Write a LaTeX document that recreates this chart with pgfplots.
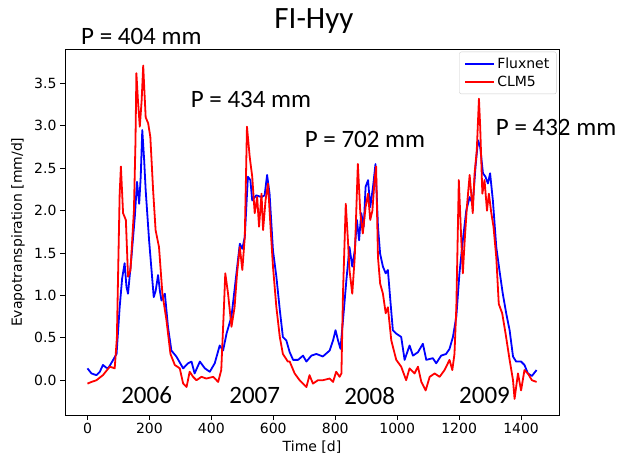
\documentclass[border=0pt]{standalone}
\usepackage{fontspec}
\setmainfont{DejaVu Sans}
\newfontfamily\calibri{Carlito}
\usepackage{pgfplots}
\pgfplotsset{compat=1.18}
\begin{document}
\begin{tikzpicture}
\useasboundingbox (0pt,0pt) rectangle (620pt,462pt);
\begin{axis}[
  at={(65pt,47pt)}, anchor=south west,
  scale only axis, width=494pt, height=365.5pt,
  xmin=-72.5, xmax=1522.5, ymin=-0.41, ymax=3.90,
  xtick={0,200,...,1400}, ytick={0,0.5,...,3.5},
  minor tick num=0,
  tick align=outside, tick pos=left,
  major tick length=5pt,
  every tick/.style={black, line width=0.8pt},
  axis line style={line width=0.8pt},
  /pgf/number format/assume math mode=true,
  yticklabel style={/pgf/number format/.cd, fixed, fixed zerofill, precision=1},
  xticklabel style={/pgf/number format/.cd, fixed, 1000 sep={}},
  ticklabel style={font=\fontsize{14}{16}\selectfont},
  xlabel={Time [d]},
  ylabel={Evapotranspiration [mm/d]},
  label style={font=\fontsize{14}{16}\selectfont},
  ylabel style={at={(axis description cs:-0.095,0.5)}, anchor=center},
  clip mode=individual,
  legend style={at={(rel axis cs:0.995,0.994)}, anchor=north east,
    draw=black!20, rounded corners=2pt, fill=white,
    font=\fontsize{14}{17}\selectfont,
    inner xsep=5pt, inner ysep=4pt, row sep=2pt},
  legend cell align=left,
  legend image code/.code={\draw[#1] (0pt,0pt) -- (29pt,0pt);},
]
\addplot[blue, line width=1.8pt, line join=round] coordinates {
(0,0.14)(13,0.08)(29,0.06)(40,0.1)(50,0.18)(60,0.15)(67,0.14)(83,0.24)(94,0.31)(104,0.86)(112,1.2)(120,1.38)(126,1.1)(131,1.02)(142,1.45)(153,1.93)(160,2.34)(167,2.08)(172,2.4)(177,2.95)(183,2.6)(188,2.24)(199,1.65)(214,0.98)(220,1.05)(228,1.24)(234,1.05)(239,0.94)(250,1.02)(260,0.63)(271,0.35)(287,0.28)(309,0.14)(325,0.2)(336,0.22)(346,0.08)(363,0.22)(379,0.14)(395,0.1)(411,0.2)(427,0.41)(438,0.35)(449,0.55)(465,0.75)(481,1.26)(492,1.61)(500,1.55)(508,1.69)(518,2.4)(526,2.36)(532,2.12)(545,2.18)(562,2.16)(572,2.18)(580,2.42)(588,2.2)(599,1.53)(610,1.22)(621,0.83)(631,0.51)(642,0.47)(653,0.33)(664,0.24)(680,0.24)(696,0.29)(707,0.22)(723,0.29)(739,0.31)(760,0.28)(782,0.35)(793,0.47)(801,0.59)(809,0.47)(817,0.37)(827,0.79)(836,1.18)(846,1.57)(855,1.34)(863,1.53)(870,1.89)(877,1.65)(884,1.97)(892,1.81)(898,2.28)(906,2.36)(913,2.04)(922,2.28)(930,2.55)(938,1.81)(945,1.49)(954,1.34)(963,1.26)(970,1.3)(978,0.94)(986,0.59)(997,0.55)(1013,0.51)(1024,0.24)(1040,0.41)(1051,0.29)(1067,0.33)(1083,0.43)(1094,0.24)(1115,0.26)(1126,0.2)(1142,0.29)(1158,0.31)(1169,0.37)(1180,0.51)(1191,0.75)(1201,1.26)(1212,1.65)(1223,2.0)(1234,2.16)(1244,2.08)(1253,2.52)(1261,2.83)(1268,2.75)(1277,2.44)(1285,2.4)(1293,2.32)(1300,2.44)(1309,2.12)(1320,1.57)(1330,1.3)(1341,1.02)(1352,0.79)(1363,0.59)(1374,0.28)(1384,0.22)(1400,0.22)(1411,0.18)(1422,0.08)(1435,0.05)(1450,0.12)
};
\addlegendentry{Fluxnet}
\addplot[red, line width=1.8pt, line join=round] coordinates {
(0,-0.04)(13,-0.02)(29,0.0)(50,0.06)(72,0.16)(88,0.14)(95,0.5)(99,1.26)(104,2.2)(108,2.52)(115,1.97)(124,1.89)(131,1.22)(139,1.3)(150,2.0)(155,2.8)(158,3.62)(163,3.3)(169,2.99)(175,3.3)(180,3.71)(184,3.4)(188,3.1)(196,3.03)(203,2.87)(212,2.24)(220,1.77)(231,1.57)(242,1.02)(255,0.71)(268,0.31)(282,0.18)(298,0.14)(309,-0.04)(320,-0.08)(330,0.1)(341,0.04)(352,0.0)(368,0.04)(384,0.02)(406,0.04)(422,-0.02)(432,0.12)(440,0.8)(445,1.26)(454,1.02)(465,0.63)(475,0.86)(483,1.26)(492,1.57)(500,1.3)(508,1.69)(515,2.99)(524,2.63)(532,2.4)(540,1.97)(548,2.16)(554,1.81)(562,2.2)(567,1.77)(575,2.12)(583,2.32)(591,1.81)(599,1.34)(610,0.86)(621,0.51)(631,0.31)(647,0.22)(653,0.22)(669,0.08)(685,0.0)(707,-0.08)(717,0.06)(728,-0.04)(744,0.0)(760,0.0)(782,0.02)(793,-0.02)(803,0.1)(814,0.04)(820,0.08)(825,1.02)(834,2.08)(841,1.65)(846,1.3)(855,1.02)(863,1.45)(873,2.55)(881,1.97)(889,1.73)(898,2.04)(906,2.2)(913,1.89)(920,2.0)(927,2.36)(932,2.52)(938,1.45)(945,1.14)(954,1.02)(963,0.79)(970,0.86)(981,0.47)(997,0.24)(1013,0.16)(1029,0.0)(1040,0.14)(1056,0.08)(1067,0.16)(1078,-0.02)(1092,-0.12)(1105,0.04)(1121,0.08)(1137,0.04)(1153,0.12)(1169,0.24)(1178,0.12)(1185,0.31)(1191,0.86)(1199,2.36)(1207,1.65)(1212,1.26)(1218,1.65)(1225,2.04)(1234,2.42)(1239,2.2)(1244,1.97)(1250,2.44)(1257,2.71)(1264,3.32)(1268,2.99)(1275,2.2)(1282,2.36)(1290,2.0)(1296,2.2)(1304,1.97)(1311,1.81)(1320,1.45)(1328,0.9)(1339,0.79)(1350,0.55)(1363,0.24)(1374,0.0)(1379,-0.22)(1390,0.08)(1400,-0.12)(1411,0.12)(1422,0.08)(1435,0.0)(1450,-0.02)
};
\addlegendentry{CLM5}
\node[anchor=base, inner sep=0pt, font=\calibri\fontsize{31}{36}\selectfont] at ([yshift=21pt, xshift=2pt]rel axis cs:0.5,1) {FI-Hyy};
\begin{scope}[every node/.style={anchor=base, inner sep=0pt, font=\calibri\fontsize{25}{30}\selectfont}]
\node at (axis cs:174,3.96) {P = 404 mm};
\node at (axis cs:528,3.22) {P = 434 mm};
\node at (axis cs:896,2.744) {P = 702 mm};
\node at (axis cs:1513,2.889) {P = 432 mm};
\node at (axis cs:191,-0.27) {2006};
\node at (axis cs:540,-0.27) {2007};
\node at (axis cs:911,-0.29) {2008};
\node at (axis cs:1282,-0.27) {2009};
\end{scope}
\end{axis}
\end{tikzpicture}
\end{document}
